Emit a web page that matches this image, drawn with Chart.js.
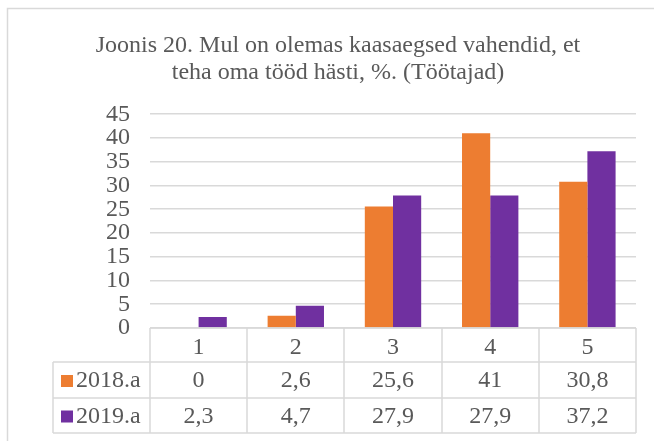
<!DOCTYPE html>
<html>
<head>
<meta charset="utf-8">
<script src="https://cdn.jsdelivr.net/npm/chart.js@4"></script>
<style>
    html, body { margin: 0; padding: 0; background: #fff; }
    #wrap { width: 654px; height: 441px; }
</style>
</head>
<body>
<div id="wrap"><canvas id="myChart" width="654" height="441"></canvas></div>
<script>
const categories = ["1", "2", "3", "4", "5"];
const seriesNames = ["2018.a", "2019.a"];
const values2018 = [0, 2.6, 25.6, 41, 30.8];
const values2019 = [2.3, 4.7, 27.9, 27.9, 37.2];
const yTicks = [0, 5, 10, 15, 20, 25, 30, 35, 40, 45];

const textColor = "#595959";
const lineColor = "#d9d9d9";
const serif = "'Liberation Serif', 'Times New Roman', serif";

function fmt(v) {
    return String(v).replace(".", ",");
}

// draws the frame and the data table under the plot
const tablePlugin = {
    id: "dataTable",
    beforeDraw(chart) {
        const ctx = chart.ctx;
        ctx.save();
        ctx.strokeStyle = lineColor;
        ctx.lineWidth = 1.5;
        ctx.strokeRect(7.5, 8.5, 700, 500);
        ctx.restore();
    },
    afterDraw(chart) {
        const ctx = chart.ctx;
        const area = chart.chartArea;
        const x = chart.scales.x;
        const n = categories.length;
        const colW = (area.right - area.left) / n;
        const top = area.bottom;
        const rows = [top, 362, 398, 433];
        const tableLeft = 53;

        ctx.save();
        ctx.strokeStyle = lineColor;
        ctx.lineWidth = 1.5;
        ctx.beginPath();
        ctx.moveTo(area.left, rows[0]);
        ctx.lineTo(area.right, rows[0]);
        for (let r = 1; r < rows.length; r++) {
            ctx.moveTo(tableLeft, rows[r]);
            ctx.lineTo(area.right, rows[r]);
        }
        for (let i = 0; i <= n; i++) {
            const px = Math.round(x.getPixelForValue(i) - colW / 2);
            ctx.moveTo(px, rows[0]);
            ctx.lineTo(px, rows[3]);
        }
        ctx.moveTo(tableLeft, rows[1]);
        ctx.lineTo(tableLeft, rows[3]);
        ctx.stroke();

        ctx.font = "24px " + serif;
        ctx.fillStyle = textColor;
        ctx.textBaseline = "middle";
        chart.data.datasets.forEach((ds, d) => {
            const cy = (rows[d + 1] + rows[d + 2]) / 2 + 1;
            ctx.fillStyle = ds.backgroundColor;
            ctx.fillRect(61, cy - 6, 12, 12);
            ctx.fillStyle = textColor;
            ctx.textAlign = "left";
            ctx.fillText(seriesNames[d], 76, cy);
            ctx.textAlign = "center";
            ds.data.forEach((v, i) => {
                ctx.fillText(fmt(v), x.getPixelForValue(i), cy);
            });
        });
        ctx.restore();
    }
};

const ctx = document.getElementById("myChart");

const myChart = new Chart(ctx, {
    type: "bar",
    data: {
        labels: categories,
        datasets: [
            {
                label: seriesNames[0],
                data: values2018,
                backgroundColor: "#ED7D31",
            },
            {
                label: seriesNames[1],
                data: values2019,
                backgroundColor: "#7030A0",
            },
        ],
    },
    options: {
        responsive: false,
        animation: false,
        layout: {
            padding: { left: 40, right: 18, top: 0, bottom: 0 }
        },
        datasets: {
            bar: {
                categoryPercentage: 0.58,
                barPercentage: 1.0,
            }
        },
        plugins: {
            legend: { display: false },
            tooltip: { enabled: false },
            title: {
                display: true,
                text: ["Joonis 20. Mul on olemas kaasaegsed vahendid, et", "teha oma tööd hästi, %. (Töötajad)"],
                color: textColor,
                font: { family: serif, size: 24, weight: "normal", lineHeight: 1.13 },
                padding: { top: 32, bottom: 28 }
            }
        },
        scales: {
            y: {
                min: 0,
                max: 45,
                afterFit(scale) {
                    scale.width = 110;
                },
                afterBuildTicks(scale) {
                    scale.ticks = yTicks.map(v => ({ value: v }));
                },
                border: { display: false },
                grid: {
                    color: lineColor,
                    lineWidth: 1.5,
                    drawTicks: false,
                },
                ticks: {
                    autoSkip: false,
                    color: textColor,
                    padding: 20,
                    font: { family: serif, size: 24, lineHeight: 1 }
                }
            },
            x: {
                afterFit(scale) {
                    scale.height = 441 - 328;
                },
                border: { display: false },
                grid: { display: false, drawTicks: false },
                ticks: {
                    color: textColor,
                    padding: 2,
                    font: { family: serif, size: 24, lineHeight: 1.45 }
                }
            }
        }
    },
    plugins: [tablePlugin]
});
</script>
</body>
</html>
